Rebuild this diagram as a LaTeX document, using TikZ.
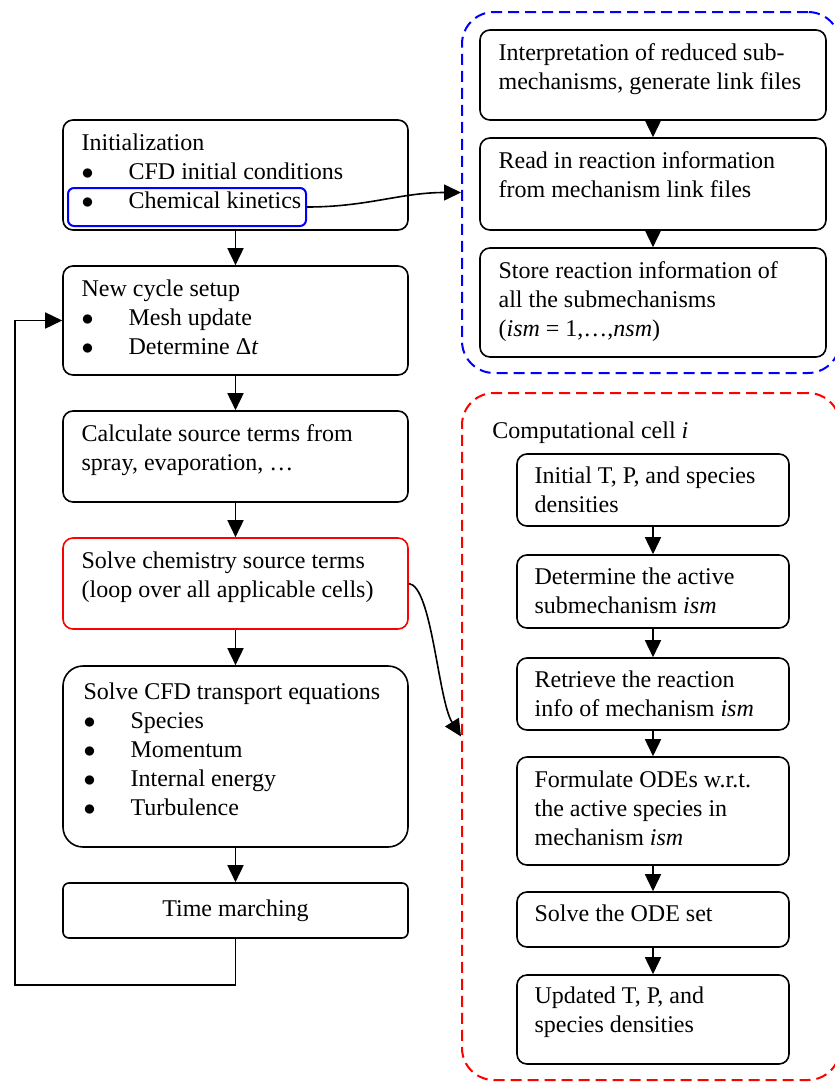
\documentclass[tikz,border=0pt]{standalone}
\usepackage{fontspec}
\setmainfont{Liberation Serif}
\usetikzlibrary{arrows.meta}

\newcommand{\bul}{\makebox[23.5pt][l]{$\bullet$}}

\begin{document}
\begin{tikzpicture}[
  x=0.5pt, y=-0.5pt, >={Triangle[width=8pt,length=8.5pt]},
  font=\fontsize{12}{14.5}\selectfont,
  box/.style={draw, line width=0.8pt, rounded corners=5pt, inner sep=0pt},
  txt/.style={anchor=north west, inner sep=0pt, align=left},
  group/.style={draw, line width=1pt, dash pattern=on 5.5pt off 3pt,
    rounded corners=16pt, inner sep=0pt, minimum width=189pt},
  link/.style={->, line width=0.8pt}
]
  \useasboundingbox (0,0) rectangle (835,1082);

  % dashed groups
  \node[group, draw=blue, minimum height=180.5pt] (GB) at (651,192.5) {};
  \node[group, draw=red, minimum height=343.5pt] (GC) at (651,736.5) {};

  % main loop
  \node[box, minimum width=172.5pt, minimum height=55pt] (L1) at (235.5,175) {};
  \node[txt] (L1t) at ([shift={(19,10.7)}]L1.north west)
    {\strut Initialization\\\bul CFD initial conditions\\\bul Chemical kinetics};
  \node[box, draw=blue, line width=1pt, rounded corners=3pt,
    minimum width=119pt, minimum height=19pt] (K) at (187,207) {};

  \node[box, minimum width=172.5pt, minimum height=54.5pt] (L2) at (235.5,320.5) {};
  \node[txt] (L2t) at ([shift={(19,10.7)}]L2.north west)
    {\strut New cycle setup\\\bul Mesh update\\\bul Determine Δ\textit{t}};

  \node[box, minimum width=172.5pt, minimum height=45.5pt] (L3) at (235.5,456.5) {};
  \node[txt] (L3t) at ([shift={(19,10.7)}]L3.north west)
    {\strut Calculate source terms from\\spray, evaporation, …};

  \node[box, draw=red, minimum width=172.5pt, minimum height=45.5pt] (L4) at (235.5,583.5) {};
  \node[txt] (L4t) at ([shift={(19,10.7)}]L4.north west)
    {\strut Solve chemistry source terms\\(loop over all applicable cells)};

  \node[box, rounded corners=10pt, minimum width=172.5pt, minimum height=90.5pt] (L5) at (235.5,756.5) {};
  \node[txt] (L5t) at ([shift={(21,13.5)}]L5.north west)
    {\strut Solve CFD transport equations\\\bul Species\\\bul Momentum\\\bul Internal energy\\\bul Turbulence};

  \node[box, rounded corners=3pt, minimum width=172.5pt, minimum height=27.5pt] (L6) at (235.5,910.5) {Time marching};

  % mechanism files
  \node[box, minimum width=173pt, minimum height=45pt] (B1) at (653,75) {};
  \node[txt] (B1t) at ([shift={(19,10.7)}]B1.north west)
    {\strut Interpretation of reduced sub-\\mechanisms, generate link files};
  \node[box, minimum width=173pt, minimum height=46pt] (B2) at (653,184) {};
  \node[txt] (B2t) at ([shift={(19,10.7)}]B2.north west)
    {\strut Read in reaction information\\from mechanism link files};
  \node[box, minimum width=173pt, minimum height=54.5pt] (B3) at (653,302.5) {};
  \node[txt] (B3t) at ([shift={(19,10.7)}]B3.north west)
    {\strut Store reaction information of\\all the submechanisms\\(\textit{ism} = 1,…,\textit{nsm})};

  % cell loop
  \node[txt] (Ct) at (492,417.7) {\strut Computational cell \textit{i}};
  \node[box, minimum width=136pt, minimum height=36pt] (C1) at (653,490) {};
  \node[txt] (C1t) at ([shift={(18,9.5)}]C1.north west)
    {\strut Initial T, P, and species\\densities};
  \node[box, minimum width=136pt, minimum height=36.5pt] (C2) at (653,591.5) {};
  \node[txt] (C2t) at ([shift={(18,10)}]C2.north west)
    {\strut Determine the active\\submechanism \textit{ism}};
  \node[box, minimum width=136pt, minimum height=36pt] (C3) at (653,694) {};
  \node[txt] (C3t) at ([shift={(18,9.5)}]C3.north west)
    {\strut Retrieve the reaction\\info of mechanism \textit{ism}};
  \node[box, minimum width=136pt, minimum height=54pt] (C4) at (653,811) {};
  \node[txt] (C4t) at ([shift={(18,10.5)}]C4.north west)
    {\strut Formulate ODEs w.r.t.\\the active species in\\mechanism \textit{ism}};
  \node[box, minimum width=136pt, minimum height=27.5pt] (C5) at (653,919.5) {};
  \node[txt] (C5t) at ([shift={(18,10)}]C5.north west) {\strut Solve the ODE set};
  \node[box, minimum width=136pt, minimum height=44.5pt] (C6) at (653,1019.5) {};
  \node[txt] (C6t) at ([shift={(18,8.5)}]C6.north west)
    {\strut Updated T, P, and\\species densities};

  \coordinate (fb) at (15,985);

  \draw[link] (L1) -- (L2);
  \draw[link] (L2) -- (L3);
  \draw[link] (L3) -- (L4);
  \draw[link] (L4) -- (L5);
  \draw[link] (L5) -- (L6);
  \draw[link] (L6.south) |- (fb) |- (L2.west);
  \draw[link] (B1) -- (B2);
  \draw[link] (B2) -- (B3);
  \draw[link] (C1) -- (C2);
  \draw[link] (C2) -- (C3);
  \draw[link] (C3) -- (C4);
  \draw[link] (C4) -- (C5);
  \draw[link] (C5) -- (C6);
  \draw[link] (K.east) to[out=0, in=180] (GB.west);
  \draw[link] (L4.east) .. controls (432,586) and (438,700) .. (GC.west);
\end{tikzpicture}
\end{document}
